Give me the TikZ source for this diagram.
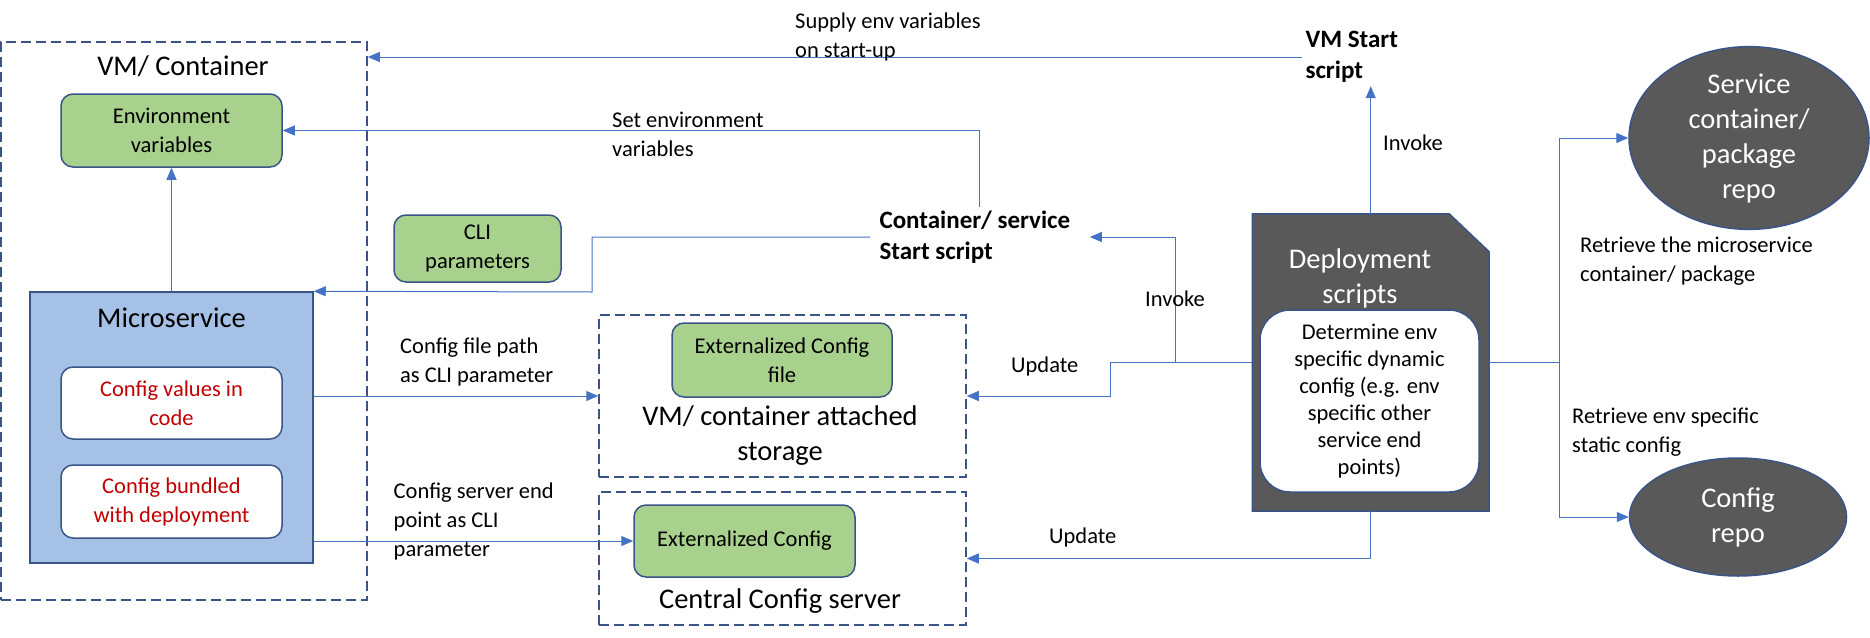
\documentclass[tikz,border=0pt]{standalone}
\usepackage{fontspec}
\setmainfont{Carlito}
\usepackage{tikz}
\usetikzlibrary{arrows.meta,shapes.geometric}

\definecolor{cgreen}{RGB}{169,209,142}
\definecolor{cblue}{RGB}{166,193,230}
\definecolor{cborder}{RGB}{58,84,136}
\definecolor{cline}{RGB}{68,114,196}
\definecolor{cdark}{RGB}{89,89,89}
\definecolor{cred}{RGB}{192,0,0}

\newcommand{\fsz}[2]{\fontsize{#1}{#2}\selectfont}

\tikzset{
  greenbox/.style={draw=cborder, fill=cgreen, line width=1.5pt, rounded corners=12pt, align=center, font=\fsz{22.5}{29}},
  redbox/.style={draw=cborder, fill=white, line width=1.5pt, rounded corners=12pt, align=center, text=cred, font=\fsz{22.5}{29}},
  dashbox/.style={draw=cborder, line width=1.5pt, dash pattern=on 10pt off 5pt},
  arr/.style={draw=cline, line width=1pt, -{Triangle[length=12pt,width=10pt]}},
  conn/.style={draw=cline, line width=1pt},
  lbl/.style={anchor=west, inner sep=0pt, align=left, font=\fsz{22.5}{29}},
  title/.style={inner sep=0pt, align=center, font=\fsz{28.5}{35}},
  script/.style={anchor=west, align=left, font=\bfseries\fsz{25}{31}},
  repo/.style={ellipse, draw=cborder, fill=cdark, line width=1.5pt, text=white, align=center, inner sep=0pt, font=\fsz{28.5}{35}}
}

\begin{document}
\begin{tikzpicture}[x=1pt,y=-1pt]
    \useasboundingbox (0,0) rectangle (1870,637);

    %Shape: Dashed boxes
    \node[dashbox, minimum width=366, minimum height=558] (vm) at (184,321) {};
    \node[dashbox, minimum width=367, minimum height=162] (storage) at (782.5,396) {};
    \node[dashbox, minimum width=367, minimum height=133] (central) at (782.5,558.5) {};

    % Text Node
    \node[title] (vmtitle) at (183,66) {VM/ Container};
    \node[title] (storagetitle) at (780,435.5) {VM/ container attached\\storage};
    \node[title] (centraltitle) at (780,601) {Central Config server};

    %Shape: Rectangle
    \node[draw=cborder, fill=cblue, line width=1.5pt, minimum width=283, minimum height=271] (micro) at (171.5,427.5) {};
    \node[title] (microtitle) at (171.5,318) {Microservice};

    %Shape: Rounded Rectangle
    \node[greenbox, minimum width=221, minimum height=73] (envvar) at (171.5,130.5) {Environment\\variables};
    \node[redbox, minimum width=221, minimum height=72] (cfgcode) at (171.5,403) {Config values in\\code};
    \node[redbox, minimum width=221, minimum height=73] (cfgbundle) at (171.5,501.5) {Config bundled\\with deployment};
    \node[greenbox, minimum width=167, minimum height=67] (cli) at (477.5,248.5) {CLI\\parameters};
    \node[greenbox, minimum width=220, minimum height=74] (extfile) at (782,360) {Externalized Config\\file};
    \node[greenbox, minimum width=221, minimum height=72] (extcfg) at (744.5,541) {Externalized Config};

    %Shape: Snipped Rectangle
    \node[minimum width=236.5, minimum height=297] (deploy) at (1370.75,362.5) {};
    \filldraw[fill=cdark, draw=cborder, line width=1.5pt] (deploy.south west) -- (deploy.north west) -- ([xshift=-40pt]deploy.north east) -- ([yshift=-38pt]deploy.north east) -- (deploy.south east) -- cycle;
    \node[title, text=white] (deploytitle) at (1360,278) {Deployment\\scripts};
    \node[draw=cborder, fill=white, line width=1.5pt, rounded corners=30pt, align=center, font=\fsz{22.5}{27}, minimum width=219, minimum height=182] (dynconf) at (1369.5,401) {Determine env\\specific dynamic\\config (e.g. env\\specific other\\service end\\points)};

    %Shape: Ellipse
    \node[repo, minimum width=240, minimum height=160] (svcrepo) at (1749,138) {Service\\container/\\package\\repo};
    \node[repo, minimum width=217, minimum height=118] (cfgrepo) at (1738,517) {Config\\repo};

    % Text Node
    \node[script] (vmstart) at (1302,57) {VM Start\\script};
    \node[script] (ctrstart) at (876,237) {Container/ service\\Start script};

    %Straight Lines
    \coordinate (dj) at (1175,362.5);
    \coordinate (uj) at (1110,362.5);
    \coordinate (cj) at (592,292);
    \coordinate (rj) at (1559,362.5);

    \draw[arr] (vmstart.west) -- (vmstart.west -| vm.east);
    \draw[arr] ([xshift=5pt]ctrstart.north) |- (envvar.east);
    \draw[arr] (micro.north) -- (envvar.south);
    \draw[arr] ([xshift=-6pt]ctrstart.west) -| (cj) -- (micro.north east);
    \draw[arr] (deploy.west) -- (dj) |- ([xshift=16pt]ctrstart.east);
    \draw[arr] (deploy.west) -- (uj) |- (storage.east);
    \draw[arr] (deploy.north) -- (vmstart.south -| deploy.north);
    \draw[arr] (deploy.south) |- (central.east);
    \draw[arr] (micro.east |- storage.east) -- (storage.west);
    \draw[arr] (micro.east |- extcfg.west) -- (extcfg.west);
    \draw[conn] (deploy.east) -- (rj);
    \draw[arr] (rj) |- (svcrepo.west);
    \draw[arr] (rj) |- (cfgrepo.west);

    % Text Node
    \node[lbl] (supplylbl) at (795,37.5) {Supply env variables\\on start-up};
    \node[lbl] (setenvlbl) at (612,134.5) {Set environment\\variables};
    \node[lbl, anchor=center] (invokelbl) at (1175,299) {Invoke};
    \node[lbl] (invoketoplbl) at (1383,143) {Invoke};
    \node[lbl] (updatelbl) at (1011,366) {Update};
    \node[lbl] (updatelowlbl) at (1049,537) {Update};
    \node[lbl] (filepathlbl) at (400,361.5) {Config file path\\as CLI parameter};
    \node[lbl] (endpointlbl) at (393.5,521) {Config server end\\point as CLI\\parameter};
    \node[lbl] (retrievesvclbl) at (1580,261.5) {Retrieve the microservice\\container/ package};
    \node[lbl] (retrievecfglbl) at (1572,432.5) {Retrieve env specific\\static config};

\end{tikzpicture}
\end{document}
